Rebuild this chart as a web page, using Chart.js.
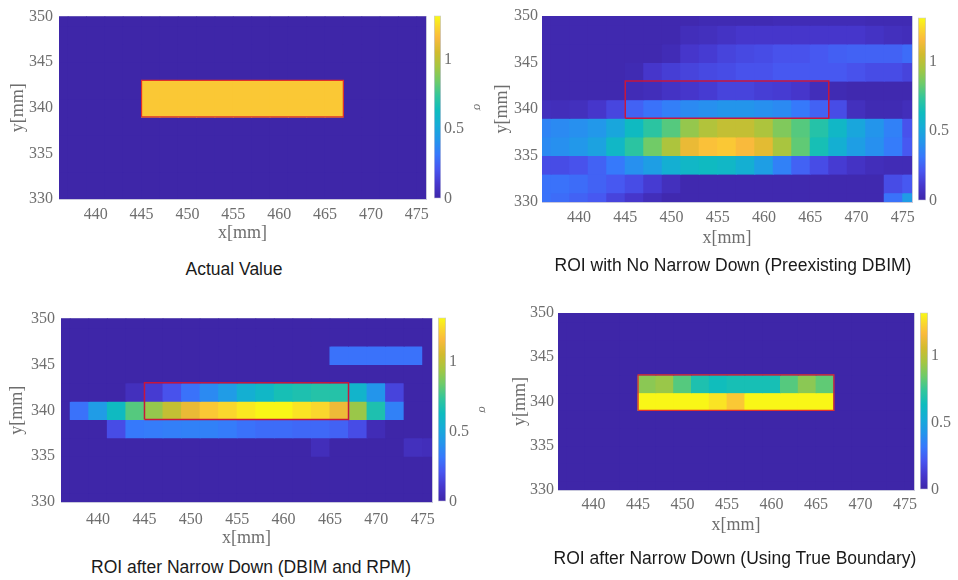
<!DOCTYPE html>
<html><head><meta charset="utf-8">
<script src="https://cdn.jsdelivr.net/npm/chart.js@4.4.1/dist/chart.umd.min.js"></script>
<style>
html,body{margin:0;padding:0;background:#fff;overflow:hidden;width:958px;height:580px;}
#wrap{position:relative;width:958px;height:580px;overflow:hidden;}
#wrap canvas{position:absolute;}
.cap{position:absolute;font-family:"Liberation Sans",Arial,sans-serif;font-size:17.5px;color:#1a1a1a;white-space:nowrap;transform:translate(-50%,-50%);}
</style></head><body><div id="wrap"></div>
<script>
// ---------- data ----------
const xCenters = [436,438,440,442,444,446,448,450,452,454,456,458,460,462,464,466,468,470,472,474,476];
const yCenters = [350,348,346,344,342,340,338,336,334,332,330];
const xTicks = [440,445,450,455,460,465,470,475];
const yTicks = [330,335,340,345,350];
const cbTicks = [0,0.5,1];
const sigmaMax = 1.32;
const roiX = [445,467,467,445,445];
const roiY = [339,339,343,343,339];

const actualValue = [
 [0,0,0,0,0,0,0,0,0,0,0,0,0,0,0,0,0,0,0,0,0],
 [0,0,0,0,0,0,0,0,0,0,0,0,0,0,0,0,0,0,0,0,0],
 [0,0,0,0,0,0,0,0,0,0,0,0,0,0,0,0,0,0,0,0,0],
 [0,0,0,0,0,0,0,0,0,0,0,0,0,0,0,0,0,0,0,0,0],
 [0,0,0,0,0,1.2,1.2,1.2,1.2,1.2,1.2,1.2,1.2,1.2,1.2,1.2,0,0,0,0,0],
 [0,0,0,0,0,1.2,1.2,1.2,1.2,1.2,1.2,1.2,1.2,1.2,1.2,1.2,0,0,0,0,0],
 [0,0,0,0,0,0,0,0,0,0,0,0,0,0,0,0,0,0,0,0,0],
 [0,0,0,0,0,0,0,0,0,0,0,0,0,0,0,0,0,0,0,0,0],
 [0,0,0,0,0,0,0,0,0,0,0,0,0,0,0,0,0,0,0,0,0],
 [0,0,0,0,0,0,0,0,0,0,0,0,0,0,0,0,0,0,0,0,0],
 [0,0,0,0,0,0,0,0,0,0,0,0,0,0,0,0,0,0,0,0,0]
];
const noNarrowDown = [
 [0.02,0.02,0.02,0.02,0.02,0.02,0.02,0.02,0.02,0.03,0.03,0.03,0.03,0.04,0.04,0.04,0.04,0.04,0.03,0.03,0.03],
 [0.02,0.02,0.02,0.02,0.02,0.02,0.02,0.02,0.05,0.06,0.08,0.1,0.1,0.1,0.1,0.1,0.1,0.1,0.08,0.06,0.05],
 [0.02,0.02,0.02,0.02,0.02,0.02,0.02,0.04,0.1,0.12,0.15,0.17,0.18,0.2,0.2,0.22,0.24,0.25,0.25,0.25,0.28],
 [0.02,0.02,0.02,0.02,0.02,0.03,0.1,0.13,0.15,0.17,0.18,0.2,0.2,0.22,0.22,0.22,0.22,0.2,0.18,0.18,0.15],
 [0.02,0.02,0.02,0.02,0.02,0.04,0.05,0.08,0.1,0.12,0.15,0.15,0.13,0.12,0.1,0.05,0.03,0.02,0.02,0.02,0.02],
 [0.06,0.05,0.06,0.1,0.16,0.25,0.3,0.34,0.38,0.4,0.42,0.42,0.4,0.38,0.32,0.25,0.18,0.06,0.03,0.03,0.05],
 [0.36,0.38,0.4,0.43,0.5,0.62,0.72,0.8,0.92,0.98,1.02,1.02,0.97,0.88,0.8,0.7,0.6,0.5,0.42,0.35,0.2],
 [0.38,0.4,0.43,0.48,0.6,0.72,0.85,0.97,1.12,1.18,1.2,1.16,1.1,0.96,0.82,0.66,0.55,0.46,0.4,0.33,0.22],
 [0.18,0.18,0.2,0.25,0.32,0.4,0.46,0.55,0.6,0.62,0.6,0.55,0.46,0.35,0.25,0.18,0.12,0.08,0.05,0.04,0.04],
 [0.3,0.3,0.28,0.25,0.22,0.18,0.12,0.06,0.02,0.02,0.02,0.02,0.02,0.02,0.02,0.02,0.02,0.02,0.02,0.18,0.22],
 [0.3,0.28,0.25,0.22,0.15,0.1,0.05,0.02,0.02,0.02,0.02,0.02,0.02,0.02,0.02,0.02,0.02,0.02,0.02,0.3,0.45]
];
const dbimRpm = [
 [0,0,0,0,0,0,0,0,0,0,0,0,0,0,0,0,0,0,0,0,0],
 [0,0,0,0,0,0,0,0,0,0,0,0,0,0,0,0,0,0,0,0,0],
 [0,0,0,0,0,0,0,0,0,0,0,0,0,0,0,0.3,0.3,0.3,0.3,0.3,0],
 [0,0,0,0,0,0,0,0,0,0,0,0,0,0,0,0,0,0,0,0,0],
 [0,0,0,0,0.06,0.12,0.2,0.3,0.38,0.45,0.55,0.6,0.66,0.68,0.7,0.7,0.58,0.42,0.15,0,0],
 [0,0.3,0.45,0.62,0.8,0.92,1.02,1.12,1.2,1.24,1.28,1.31,1.31,1.27,1.24,1.13,0.93,0.68,0.35,0,0],
 [0,0,0,0.18,0.32,0.33,0.34,0.35,0.35,0.33,0.3,0.28,0.28,0.27,0.27,0.25,0.18,0.04,0,0,0],
 [0,0,0,0,0,0,0,0,0,0,0,0,0,0,0.05,0,0,0,0,0.06,0.05],
 [0,0,0,0,0,0,0,0,0,0,0,0,0,0,0,0,0,0,0,0,0],
 [0,0,0,0,0,0,0,0,0,0,0,0,0,0,0,0,0,0,0,0,0],
 [0,0,0,0,0,0,0,0,0,0,0,0,0,0,0,0,0,0,0,0,0]
];
const trueBoundary = [
 [0,0,0,0,0,0,0,0,0,0,0,0,0,0,0,0,0,0,0,0,0],
 [0,0,0,0,0,0,0,0,0,0,0,0,0,0,0,0,0,0,0,0,0],
 [0,0,0,0,0,0,0,0,0,0,0,0,0,0,0,0,0,0,0,0,0],
 [0,0,0,0,0,0,0,0,0,0,0,0,0,0,0,0,0,0,0,0,0],
 [0,0,0,0,0,0.9,0.93,0.8,0.68,0.64,0.66,0.66,0.66,0.8,0.9,0.82,0,0,0,0,0],
 [0,0,0,0,0,1.31,1.31,1.31,1.31,1.27,1.2,1.31,1.31,1.31,1.31,1.31,0,0,0,0,0],
 [0,0,0,0,0,0,0,0,0,0,0,0,0,0,0,0,0,0,0,0,0],
 [0,0,0,0,0,0,0,0,0,0,0,0,0,0,0,0,0,0,0,0,0],
 [0,0,0,0,0,0,0,0,0,0,0,0,0,0,0,0,0,0,0,0,0],
 [0,0,0,0,0,0,0,0,0,0,0,0,0,0,0,0,0,0,0,0,0],
 [0,0,0,0,0,0,0,0,0,0,0,0,0,0,0,0,0,0,0,0,0]
];
const captions = [
 'Actual Value',
 'ROI with No Narrow Down (Preexisting DBIM)',
 'ROI after Narrow Down (DBIM and RPM)',
 'ROI after Narrow Down (Using True Boundary)'
];

// ---------- style ----------
const parula = [
 [0.00, 62, 38, 168],
 [0.08, 70, 55, 205],
 [0.16, 72, 85, 240],
 [0.24, 55, 120, 252],
 [0.32, 35, 150, 235],
 [0.40, 22, 172, 215],
 [0.48, 14, 188, 190],
 [0.56, 50, 198, 155],
 [0.64, 110, 203, 105],
 [0.72, 165, 198, 65],
 [0.80, 210, 187, 45],
 [0.88, 250, 186, 60],
 [0.94, 250, 215, 45],
 [1.00, 249, 251, 20]
];
function rgbAt(t){
  t = Math.max(0, Math.min(1, t));
  for (let i = 1; i < parula.length; i++) {
    if (t <= parula[i][0]) {
      const a = parula[i-1], b = parula[i];
      const f = (t - a[0]) / (b[0] - a[0]);
      return 'rgb(' + [1,2,3].map(k => Math.round(a[k] + (b[k]-a[k])*f)).join(',') + ')';
    }
  }
  const l = parula[parula.length-1];
  return 'rgb(' + l[1] + ',' + l[2] + ',' + l[3] + ')';
}
const cmap = v => rgbAt(v / sigmaMax);

const serif = '"Liberation Serif","Times New Roman",serif';
const tickFont = {family: serif, size: 16};
const titleFont = {family: serif, size: 18};
const tickColor = '#6e6e6e';
const frameColor = '#c8c8dc';

const panels = [
 {grid: actualValue, L:59, T:15, R:426, B:199, cl:0, yTitleC:18, xTitleC:233, xTickPad:6, yTickPad:6,
  cb:{L:434,R:441,T:15,B:199}, cap:{x:234,y:269}, roiColor:'#e0302a', roiWidth:1.2},
 {grid: noNarrowDown, L:542, T:16, R:912, B:202, cl:480, yTitleC:502, xTitleC:238, xTickPad:6, yTickPad:4,
  cb:{L:918,R:926,T:17,B:201}, cap:{x:733,y:265}, roiColor:'#c8163c', roiWidth:1.5},
 {grid: dbimRpm, L:61, T:317, R:432, B:502, cl:0, yTitleC:17, xTitleC:538, xTickPad:8, yTickPad:6,
  cb:{L:438,R:446,T:317,B:502}, cap:{x:251,y:567}, roiColor:'#c8163c', roiWidth:1.5},
 {grid: trueBoundary, L:558, T:313, R:914, B:490, cl:480, yTitleC:520, xTitleC:525, xTickPad:5, yTickPad:4,
  cb:{L:920,R:928,T:312,B:490}, cap:{x:735,y:558}, roiColor:'#e0302a', roiWidth:1.2}
];

// underlay of the zero colour behind the cells
const plotBg = {
  id: 'plotBg',
  beforeDatasetsDraw(chart) {
    const {ctx, chartArea: a} = chart;
    ctx.save();
    ctx.fillStyle = cmap(0);
    ctx.fillRect(a.left, a.top, a.right - a.left, a.bottom - a.top);
    ctx.restore();
  }
};

const wrap = document.getElementById('wrap');
function makeCanvas(left, top, w, h){
  const c = document.createElement('canvas');
  c.width = w; c.height = h;
  c.style.left = left + 'px'; c.style.top = top + 'px';
  c.style.width = w + 'px'; c.style.height = h + 'px';
  wrap.appendChild(c);
  return c;
}
const setTicks = arr => s => { s.ticks = arr.map(v => ({value: v})); };
const plainLabel = v => String(v);

function heatmap(p){
  const padTop = 14, padRight = 12, xAxisH = 50, titleHalf = 10.8;
  const top = p.T - padTop;
  const cv = makeCanvas(p.cl, top, p.R + padRight - p.cl, p.B - top + xAxisH);
  const datasets = yCenters.map((y, r) => ({
    type: 'bar',
    data: xCenters.map(x => ({x: x, y: [y - 1, y + 1]})),
    backgroundColor: p.grid[r].map(cmap),
    borderWidth: 0, inflateAmount: 0.5, grouped: false, barPercentage: 1, categoryPercentage: 1,
    clip: 0, xAxisID: 'x', yAxisID: 'y', order: 2
  }));
  datasets.push({
    type: 'line',
    data: roiX.map((x, i) => ({x: x, y: roiY[i]})),
    borderColor: p.roiColor, borderWidth: p.roiWidth, pointRadius: 0,
    fill: false, tension: 0, order: 0, xAxisID: 'x', yAxisID: 'y'
  });
  new Chart(cv, {
    type: 'bar',
    data: {datasets},
    plugins: [plotBg],
    options: {
      responsive: false, animation: false, events: [],
      layout: {padding: {top: padTop, right: padRight, bottom: 0, left: 0}},
      plugins: {legend: {display: false}, tooltip: {enabled: false}},
      scales: {
        x: {type: 'linear', position: 'bottom', min: 436, max: 476, offset: false,
            afterBuildTicks: setTicks(xTicks), afterFit: s => { s.height = xAxisH; },
            grid: {display: false, drawTicks: false},
            border: {display: true, color: frameColor},
            ticks: {font: tickFont, color: tickColor, padding: p.xTickPad, maxRotation: 0, autoSkip: false, callback: plainLabel},
            title: {display: true, text: 'x[mm]', font: titleFont, color: tickColor,
                    padding: {top: 0, bottom: p.B + xAxisH - titleHalf - p.xTitleC}}},
        y: {type: 'linear', position: 'left', min: 330, max: 350,
            afterBuildTicks: setTicks(yTicks), afterFit: s => { s.width = p.L - p.cl; },
            grid: {display: false, drawTicks: false},
            border: {display: true, color: frameColor},
            ticks: {font: tickFont, color: tickColor, padding: p.yTickPad, callback: plainLabel},
            title: {display: true, text: 'y[mm]', font: titleFont, color: tickColor,
                    padding: {top: p.yTitleC - p.cl - titleHalf, bottom: 0}}},
        xTop: {type: 'linear', position: 'top', min: 436, max: 476,
            afterFit: s => { s.height = 0; },
            grid: {display: false, drawTicks: false}, ticks: {display: false},
            border: {display: true, color: frameColor}},
        yRight: {type: 'linear', position: 'right', min: 330, max: 350,
            afterFit: s => { s.width = 0; },
            grid: {display: false, drawTicks: false}, ticks: {display: false},
            border: {display: true, color: frameColor}}
      }
    }
  });
}

function colorbar(p){
  const cb = p.cb, pad = 12, axW = 46;
  const cv = makeCanvas(cb.L, cb.T - pad, (cb.R - cb.L) + axW, (cb.B - cb.T) + 2*pad);
  new Chart(cv, {
    type: 'bar',
    data: {labels: [''], datasets: [{
      data: [[0, sigmaMax]],
      backgroundColor: ctx => {
        const area = ctx.chart.chartArea;
        if (!area) return rgbAt(0);
        const g = ctx.chart.ctx.createLinearGradient(0, area.bottom, 0, area.top);
        parula.forEach(s => g.addColorStop(s[0], rgbAt(s[0])));
        return g;
      },
      borderWidth: 1, borderColor: frameColor, borderSkipped: false,
      barPercentage: 1, categoryPercentage: 1
    }]},
    options: {
      responsive: false, animation: false, events: [],
      layout: {padding: {top: pad, bottom: pad, left: 0, right: 0}},
      plugins: {legend: {display: false}, tooltip: {enabled: false}},
      scales: {
        x: {display: false},
        y: {position: 'right', min: 0, max: sigmaMax,
            afterBuildTicks: setTicks(cbTicks), afterFit: s => { s.width = axW; },
            grid: {display: false, drawTicks: false}, border: {display: false},
            ticks: {font: tickFont, color: tickColor, padding: 3, callback: plainLabel},
            title: {display: true, text: 'σ', font: {family: serif, size: 13, style: 'italic'}, color: tickColor,
                    padding: {top: 2, bottom: 0}}}
      }
    }
  });
}

panels.forEach((p, i) => {
  heatmap(p);
  colorbar(p);
  const d = document.createElement('div');
  d.className = 'cap';
  d.textContent = captions[i];
  d.style.left = p.cap.x + 'px';
  d.style.top = p.cap.y + 'px';
  wrap.appendChild(d);
});
</script></body></html>
